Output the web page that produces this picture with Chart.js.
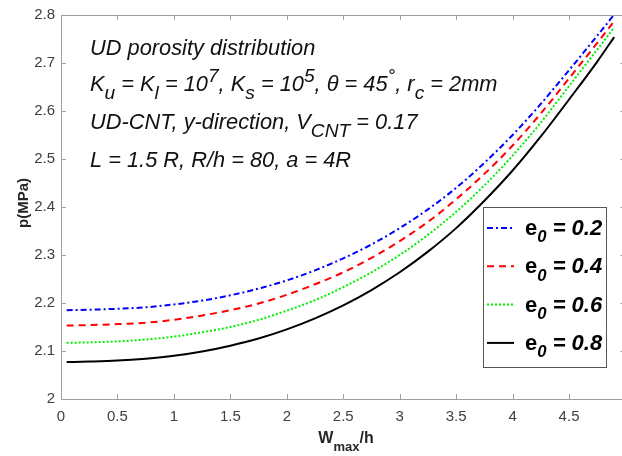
<!DOCTYPE html>
<html>
<head>
<meta charset="utf-8">
<script src="https://cdn.jsdelivr.net/npm/chart.js@4.4.1/dist/chart.umd.min.js"></script>
<style>
  html, body { margin: 0; padding: 0; overflow: hidden; background: #fff; }
  #wrap { width: 640px; height: 456px; }
</style>
</head>
<body>
<div id="wrap"><canvas id="chart" width="640" height="456"></canvas></div>
<script>
// W_max/h values where the curves were read
const wValues = [0.05, 0.25, 0.5, 0.75, 1, 1.25, 1.5, 1.75, 2, 2.25, 2.5,
                 2.75, 3, 3.25, 3.5, 3.75, 4, 4.25, 4.5, 4.75, 4.9];

// p (MPa) for each porosity coefficient
const pE02 = [2.185, 2.186, 2.188, 2.191, 2.197, 2.205, 2.216, 2.230, 2.247, 2.268, 2.293,
              2.322, 2.356, 2.395, 2.440, 2.492, 2.550, 2.615, 2.685, 2.757, 2.801];
const pE04 = [2.153, 2.154, 2.156, 2.159, 2.165, 2.174, 2.185, 2.199, 2.217, 2.239, 2.264,
              2.294, 2.329, 2.369, 2.416, 2.469, 2.528, 2.595, 2.668, 2.742, 2.787];
const pE06 = [2.117, 2.118, 2.120, 2.124, 2.130, 2.139, 2.150, 2.165, 2.184, 2.206, 2.233,
              2.264, 2.300, 2.342, 2.390, 2.445, 2.507, 2.576, 2.652, 2.728, 2.774];
const pE08 = [2.077, 2.078, 2.080, 2.084, 2.090, 2.099, 2.111, 2.126, 2.145, 2.168, 2.195,
              2.227, 2.264, 2.307, 2.356, 2.413, 2.476, 2.547, 2.624, 2.703, 2.754];

const e0Labels = ["0.2", "0.4", "0.6", "0.8"];
const xTicks = [0, 0.5, 1, 1.5, 2, 2.5, 3, 3.5, 4, 4.5, 5];
const yTicks = [2, 2.1, 2.2, 2.3, 2.4, 2.5, 2.6, 2.7, 2.8];

const FONT = '"Liberation Sans", Arial, Helvetica, sans-serif';

function toPoints(ys) {
  return wValues.map((w, i) => ({ x: w, y: ys[i] }));
}

const series = [
  { ys: pE02, color: "#0000ff", dash: [6, 3, 2, 3] },
  { ys: pE04, color: "#ff0000", dash: [7, 5] },
  { ys: pE06, color: "#00ee00", dash: [2, 2] },
  { ys: pE08, color: "#000000", dash: [] }
];

// draw text pieces with sub/superscripts, returns end x
function drawRuns(ctx, x, y, runs, size, style) {
  runs.forEach(([t, m]) => {
    const s = m === "n" ? size : size * 0.88;
    const dy = m === "sub" ? size * 0.38 : (m === "sup" ? -size * 0.42 : 0);
    ctx.font = `${style} ${s}px ${FONT}`;
    ctx.fillText(t, x, y + dy);
    x += ctx.measureText(t).width;
  });
  return x;
}

const decorations = {
  id: "decorations",
  afterDatasetsDraw(chart) {
    const ctx = chart.ctx;
    const area = chart.chartArea;
    const xs = chart.scales.x, ys = chart.scales.y;
    ctx.save();

    // box + inward ticks
    ctx.strokeStyle = "#a0a0a0";
    ctx.lineWidth = 1;
    ctx.beginPath();
    ctx.rect(area.left + 0.5, area.top + 0.5, area.right - area.left, area.bottom - area.top);
    ctx.stroke();
    ctx.beginPath();
    xTicks.forEach(v => {
      const px = Math.round(xs.getPixelForValue(v)) + 0.5;
      ctx.moveTo(px, area.bottom); ctx.lineTo(px, area.bottom - 5);
      ctx.moveTo(px, area.top); ctx.lineTo(px, area.top + 5);
    });
    yTicks.forEach(v => {
      const py = Math.round(ys.getPixelForValue(v)) + 0.5;
      ctx.moveTo(area.left, py); ctx.lineTo(area.left + 5, py);
      ctx.moveTo(area.right, py); ctx.lineTo(area.right - 5, py);
    });
    ctx.stroke();

    // annotation block
    ctx.fillStyle = "#111";
    ctx.textBaseline = "alphabetic";
    ctx.textAlign = "left";
    const sz = 21.8, tx = 90;
    drawRuns(ctx, tx, 55, [["UD porosity distribution", "n"]], sz, "italic");
    drawRuns(ctx, tx, 91, [["K", "n"], ["u", "sub"], [" = K", "n"], ["l", "sub"], [" = 10", "n"], ["7", "sup"],
      [", K", "n"], ["s", "sub"], [" = 10", "n"], ["5", "sup"], [", \u03b8 = 45", "n"], ["\u00b0", "sup"],
      [", r", "n"], ["c", "sub"], [" = 2mm", "n"]], sz, "italic");
    drawRuns(ctx, tx, 129, [["UD-CNT, y-direction, V", "n"], ["CNT", "sub"], [" = 0.17", "n"]], sz, "italic");
    drawRuns(ctx, tx, 167, [["L = 1.5 R, R/h = 80, a = 4R", "n"]], sz, "italic");

    // axis titles
    ctx.fillStyle = "#262626";
    ctx.font = `bold 16px ${FONT}`;
    let w1 = ctx.measureText("W").width;
    ctx.font = `bold 13px ${FONT}`;
    let w2 = ctx.measureText("max").width;
    ctx.font = `bold 16px ${FONT}`;
    let w3 = ctx.measureText("/h").width;
    let x0 = 346 - (w1 + w2 + w3) / 2;
    ctx.fillText("W", x0, 443);
    ctx.font = `bold 13px ${FONT}`;
    ctx.fillText("max", x0 + w1, 451);
    ctx.font = `bold 16px ${FONT}`;
    ctx.fillText("/h", x0 + w1 + w2, 443);

    ctx.save();
    ctx.translate(24, 203);
    ctx.rotate(-Math.PI / 2);
    ctx.textAlign = "center";
    ctx.textBaseline = "middle";
    ctx.font = `bold 15px ${FONT}`;
    ctx.fillText("p(MPa)", 0, 0);
    ctx.restore();

    // legend
    const lx = 483.5, ly = 207.5, lw = 123, lh = 160;
    ctx.fillStyle = "#fff";
    ctx.fillRect(lx, ly, lw, lh);
    ctx.strokeStyle = "#555";
    ctx.lineWidth = 1;
    ctx.strokeRect(lx, ly, lw, lh);
    chart.data.datasets.forEach((ds, i) => {
      const ry = 228 + i * 38.3;
      ctx.strokeStyle = ds.borderColor;
      ctx.lineWidth = 2;
      ctx.setLineDash(ds.borderDash);
      ctx.beginPath();
      ctx.moveTo(487, ry); ctx.lineTo(514, ry);
      ctx.stroke();
      ctx.setLineDash([]);
      ctx.fillStyle = "#000";
      let x = drawRuns(ctx, 525, ry + 7, [["e", "n"]], 22, "bold");
      x = drawRuns(ctx, x, ry + 7, [["0", "sub"]], 19, "bold italic");
      drawRuns(ctx, x, ry + 7, [[" = " + e0Labels[i], "n"]], 22, "bold italic");
    });

    ctx.restore();
  }
};

new Chart(document.getElementById("chart"), {
  type: "line",
  data: {
    datasets: series.map((s, i) => ({
      label: "e0 = " + e0Labels[i],
      data: toPoints(s.ys),
      borderColor: s.color,
      borderDash: s.dash,
      borderWidth: 2,
      pointRadius: 0,
      cubicInterpolationMode: "monotone",
      fill: false
    }))
  },
  options: {
    responsive: false,
    animation: false,
    devicePixelRatio: 1,
    layout: { padding: { left: 0, top: 13, right: 14.5, bottom: 0 } },
    plugins: { legend: { display: false }, tooltip: { enabled: false } },
    scales: {
      x: {
        type: "linear",
        min: 0, max: 5,
        afterBuildTicks: scale => { scale.ticks = xTicks.map(v => ({ value: v })); },
        afterFit: scale => { scale.height = 57; },
        grid: { display: false, drawTicks: false },
        border: { display: false },
        ticks: {
          padding: 9,
          maxRotation: 0,
          autoSkip: false,
          color: "#404040",
          font: { family: FONT, size: 15 },
          callback: v => String(v)
        }
      },
      y: {
        min: 2, max: 2.8,
        afterBuildTicks: scale => { scale.ticks = yTicks.map(v => ({ value: v })); },
        afterFit: scale => { scale.width = 61; },
        grid: { display: false, drawTicks: false },
        border: { display: false },
        ticks: {
          padding: 6,
          color: "#404040",
          font: { family: FONT, size: 15 },
          callback: v => String(Math.round(v * 10) / 10)
        }
      }
    }
  },
  plugins: [decorations]
});
</script>
</body>
</html>
